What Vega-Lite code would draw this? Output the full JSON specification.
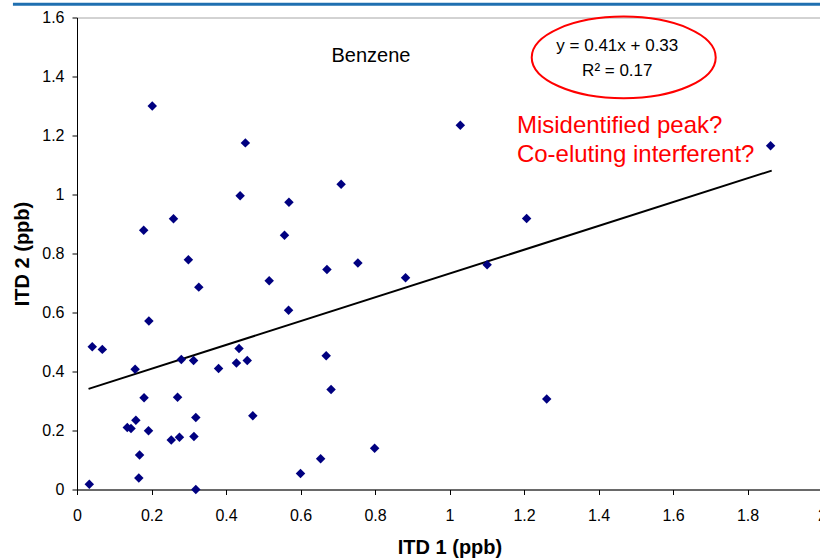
{
  "$schema": "https://vega.github.io/schema/vega-lite/v6.json",
  "width": 745,
  "height": 472,
  "autosize": "none",
  "padding": {"left": 77, "top": 17.5, "right": 0, "bottom": 68.5},
  "background": "white",
  "config": {
    "view": {"stroke": "#a6a6a6", "strokeWidth": 1},
    "font": "Liberation Sans",
    "axis": {
      "labelFont": "Liberation Sans",
      "labelFontSize": 16,
      "labelColor": "black",
      "titleFont": "Liberation Sans",
      "titleFontSize": 20,
      "titleFontWeight": "bold",
      "titleColor": "black",
      "domainColor": "black",
      "tickColor": "black",
      "tickSize": 5,
      "grid": false
    }
  },
  "datasets": {
    "points": [
      {"x": 0.202, "y": 1.300}, {"x": 0.452, "y": 1.175}, {"x": 0.438, "y": 0.996},
      {"x": 0.569, "y": 0.974}, {"x": 0.709, "y": 1.035}, {"x": 0.259, "y": 0.918},
      {"x": 0.179, "y": 0.879}, {"x": 0.557, "y": 0.862}, {"x": 0.299, "y": 0.779},
      {"x": 0.671, "y": 0.746}, {"x": 0.754, "y": 0.768}, {"x": 0.516, "y": 0.708},
      {"x": 0.882, "y": 0.718}, {"x": 0.327, "y": 0.686}, {"x": 0.568, "y": 0.608},
      {"x": 0.193, "y": 0.571}, {"x": 0.041, "y": 0.484}, {"x": 0.068, "y": 0.475},
      {"x": 0.435, "y": 0.478}, {"x": 0.280, "y": 0.441}, {"x": 0.313, "y": 0.437},
      {"x": 0.457, "y": 0.437}, {"x": 0.380, "y": 0.410}, {"x": 0.428, "y": 0.429},
      {"x": 0.156, "y": 0.408}, {"x": 0.669, "y": 0.453}, {"x": 0.682, "y": 0.339},
      {"x": 0.180, "y": 0.311}, {"x": 0.270, "y": 0.313}, {"x": 0.135, "y": 0.210},
      {"x": 0.145, "y": 0.207}, {"x": 0.158, "y": 0.235}, {"x": 0.192, "y": 0.199},
      {"x": 0.319, "y": 0.244}, {"x": 0.472, "y": 0.250}, {"x": 0.253, "y": 0.168},
      {"x": 0.275, "y": 0.177}, {"x": 0.314, "y": 0.180}, {"x": 0.168, "y": 0.117},
      {"x": 0.166, "y": 0.039}, {"x": 0.033, "y": 0.018}, {"x": 0.319, "y": 0.000},
      {"x": 0.600, "y": 0.054}, {"x": 0.654, "y": 0.104}, {"x": 0.799, "y": 0.140},
      {"x": 1.029, "y": 1.235}, {"x": 1.862, "y": 1.165}, {"x": 1.207, "y": 0.919},
      {"x": 1.101, "y": 0.762}, {"x": 1.261, "y": 0.307}
    ],
    "trend": [{"x": 0.031, "y": 0.341}, {"x": 1.865, "y": 1.081}],
    "topbar": [{"x": -0.172, "x2": 2.1, "y": 1.6445}],
    "benzene": [{"x": 0.789, "y": 1.449, "label": "Benzene"}],
    "equation": [
      {"x": 1.4505, "y": 1.488, "label": "y = 0.41x + 0.33"},
      {"x": 1.4505, "y": 1.402, "label": "R² = 0.17"}
    ],
    "ellipse": [{"x": 1.4677, "y": 1.4647}],
    "note": [
      {"x": 1.181, "y": 1.2086, "label": "Misidentified peak?"},
      {"x": 1.181, "y": 1.110, "label": "Co-eluting interferent?"}
    ]
  },
  "encoding": {
    "x": {
      "field": "x", "type": "quantitative",
      "scale": {"domain": [0, 2], "nice": false, "zero": false},
      "axis": {
        "title": "ITD 1 (ppb)",
        "values": [0, 0.2, 0.4, 0.6, 0.8, 1, 1.2, 1.4, 1.6, 1.8, 2],
        "format": "~g",
        "labelPadding": 13,
        "labelFlush": false,
        "labelOverlap": false,
        "titleY": 63.5,
        "titleBaseline": "alphabetic"
      }
    },
    "y": {
      "field": "y", "type": "quantitative",
      "scale": {"domain": [0, 1.6], "nice": false, "zero": false},
      "axis": {
        "title": "ITD 2 (ppb)",
        "values": [0, 0.2, 0.4, 0.6, 0.8, 1, 1.2, 1.4, 1.6],
        "format": "~g",
        "labelPadding": 8,
        "labelFlush": false,
        "labelOverlap": false,
        "titleX": -55,
        "titleY": 236,
        "titleBaseline": "middle"
      }
    }
  },
  "layer": [
    {
      "data": {"name": "topbar"},
      "mark": {"type": "rule", "color": "#1f6fb0", "strokeWidth": 3, "clip": false},
      "encoding": {"x2": {"field": "x2"}}
    },
    {
      "data": {"name": "trend"},
      "mark": {"type": "line", "color": "black", "strokeWidth": 2},
      "encoding": {}
    },
    {
      "data": {"name": "points"},
      "mark": {"type": "point", "shape": "diamond", "filled": true, "color": "#000080", "size": 90, "opacity": 1}
    },
    {
      "data": {"name": "ellipse"},
      "mark": {
        "type": "point",
        "shape": "M-1,0A1,0.4435,0,1,0,1,0A1,0.4435,0,1,0,-1,0Z",
        "filled": false,
        "stroke": "#ff0000",
        "strokeWidth": 2,
        "size": 33856,
        "opacity": 1
      }
    },
    {
      "data": {"name": "benzene"},
      "mark": {"type": "text", "fontSize": 20, "color": "black", "align": "center", "baseline": "alphabetic", "font": "Liberation Sans"},
      "encoding": {"text": {"field": "label"}}
    },
    {
      "data": {"name": "equation"},
      "mark": {"type": "text", "fontSize": 17, "color": "black", "align": "center", "baseline": "alphabetic", "font": "Liberation Sans"},
      "encoding": {"text": {"field": "label"}}
    },
    {
      "data": {"name": "note"},
      "mark": {"type": "text", "fontSize": 24, "color": "#ff0000", "align": "left", "baseline": "alphabetic", "font": "Liberation Sans"},
      "encoding": {"text": {"field": "label"}}
    }
  ]
}
